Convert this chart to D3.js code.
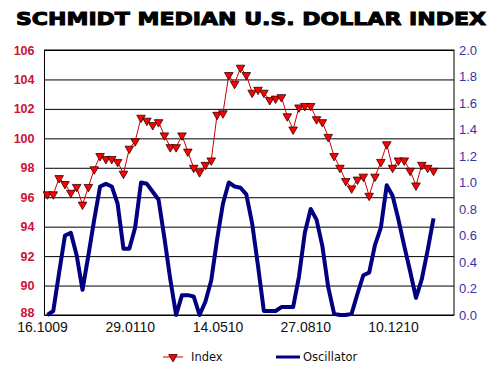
<!DOCTYPE html>
<html>
<head>
<meta charset="utf-8">
<script src="https://cdn.jsdelivr.net/npm/d3@7"></script>
<style>
  body { margin: 0; background: #fff; }
  svg { display: block; }
</style>
</head>
<body>
<div id="chart"></div>
<script>
// weekly values, first week 16.10.09
var indexValues = [96.2, 96.2, 97.3, 96.9, 96.3, 96.7, 95.5, 96.7, 97.9, 98.8,
    98.6, 98.6, 98.4, 97.6, 99.3, 99.8, 101.4, 101.2, 100.9, 101.1,
    100.2, 99.4, 99.4, 100.2, 99.1, 98.0, 97.7, 98.2, 98.5, 101.6,
    101.7, 104.3, 103.7, 104.8, 104.3, 103.1, 103.3, 103.1, 102.6, 102.7,
    102.8, 101.5, 100.6, 102.1, 102.2, 102.2, 101.3, 101.1, 100.1, 98.8,
    98.0, 97.1, 96.6, 97.2, 97.4, 96.1, 97.4, 98.4, 99.6, 98.0,
    98.5, 98.5, 97.8, 96.8, 98.2, 98.0, 97.8];

var oscValues = [0.0, 0.03, 0.32, 0.60, 0.62, 0.45, 0.19, 0.45, 0.72, 0.97,
    0.99, 0.97, 0.84, 0.50, 0.50, 0.66, 1.0, 0.99, 0.93, 0.87,
    0.58, 0.27, 0.0, 0.15, 0.15, 0.14, 0.0, 0.10, 0.26, 0.57,
    0.84, 1.0, 0.97, 0.96, 0.91, 0.69, 0.37, 0.03, 0.03, 0.03,
    0.06, 0.06, 0.06, 0.29, 0.62, 0.80, 0.72, 0.52, 0.21, 0.01,
    0.0, 0.0, 0.01, 0.16, 0.30, 0.32, 0.53, 0.66, 0.98, 0.90,
    0.72, 0.52, 0.33, 0.13, 0.27, 0.49, 0.73];

var weekCount = 70;
var dateLabels = ["16.1009", "29.0110", "14.0510", "27.0810", "10.1210"];
var dateLabelWeeks = [0, 15, 30, 45, 60];
var leftTicks = [88, 90, 92, 94, 96, 98, 100, 102, 104, 106];
var rightTicks = [0, 0.2, 0.4, 0.6, 0.8, 1.0, 1.2, 1.4, 1.6, 1.8, 2.0];

var width = 500, height = 374;
var plot = {left: 44.5, right: 454, top: 50, bottom: 315};

var svg = d3.select("#chart").append("svg")
    .attr("width", width)
    .attr("height", height);

//
// Scales
//
var x = d3.scaleLinear().domain([0, weekCount]).range([plot.left, plot.right]);
var yL = d3.scaleLinear().domain([88, 106]).range([plot.bottom, plot.top]);
var yR = d3.scaleLinear().domain([0, 2]).range([plot.bottom, plot.top]);

// title
svg.append("text")
    .attr("x", 251)
    .attr("y", 25)
    .attr("text-anchor", "middle")
    .attr("textLength", 470)
    .attr("lengthAdjust", "spacingAndGlyphs")
    .style("font-family", "'DejaVu Sans', sans-serif")
    .style("font-weight", "bold")
    .style("font-size", "18px")
    .style("stroke", "#000")
    .style("stroke-width", "1px")
    .text("SCHMIDT MEDIAN U.S. DOLLAR INDEX");

// gridlines
svg.append("g")
    .attr("class", "grid")
    .attr("transform", "translate(" + plot.left + ",0)")
    .call(d3.axisLeft(yL).tickValues(leftTicks).tickSize(-(plot.right - plot.left)).tickFormat(""))
    .call(function(g) { g.select(".domain").remove(); })
    .selectAll("line")
    .attr("stroke", "#000")
    .attr("stroke-width", 1);

// frame
svg.append("rect")
    .attr("x", plot.left)
    .attr("y", plot.top)
    .attr("width", plot.right - plot.left)
    .attr("height", plot.bottom - plot.top)
    .attr("fill", "none")
    .attr("stroke", "#000")
    .attr("stroke-width", 1);

// left axis labels
var leftAxis = svg.append("g")
    .attr("transform", "translate(" + plot.left + ",0)")
    .call(d3.axisLeft(yL).tickValues(leftTicks).tickSize(0).tickPadding(10).tickFormat(d3.format("d")));
leftAxis.select(".domain").remove();
leftAxis.selectAll("text")
    .attr("fill", "#cc1133")
    .style("font-family", "'Liberation Sans', Arial, sans-serif")
    .style("font-weight", "bold")
    .style("font-size", "12.5px");
// the bottom label sits a touch higher so it clears the first date
leftAxis.selectAll("text").filter(function(d) { return d === 88; })
    .attr("dy", "0.1em");

// right axis labels
var rightAxis = svg.append("g")
    .attr("transform", "translate(" + plot.right + ",0)")
    .call(d3.axisRight(yR).tickValues(rightTicks).tickSize(0).tickPadding(5).tickFormat(d3.format(".1f")));
rightAxis.select(".domain").remove();
rightAxis.selectAll("text")
    .attr("fill", "#3535a8")
    .style("font-family", "'Liberation Sans', Arial, sans-serif")
    .style("font-size", "13px");

// date labels
svg.append("g").selectAll("text")
    .data(dateLabels)
    .enter().append("text")
    .attr("x", function(d, i) { return x(dateLabelWeeks[i]) - 2; })
    .attr("y", 332)
    .attr("text-anchor", "middle")
    .attr("fill", "#111")
    .style("font-family", "'Liberation Sans', Arial, sans-serif")
    .style("font-size", "14px")
    .text(function(d) { return d; });

// oscillator
svg.append("path")
    .datum(oscValues)
    .attr("fill", "none")
    .attr("stroke", "#000080")
    .attr("stroke-width", 4)
    .attr("stroke-linejoin", "round")
    .attr("d", d3.line()
          .x(function(d, i) { return x(i + 0.5); })
          .y(function(d) { return yR(d); }));

// index
svg.append("path")
    .datum(indexValues)
    .attr("fill", "none")
    .attr("stroke", "#cc0000")
    .attr("stroke-width", 1)
    .attr("d", d3.line()
          .x(function(d, i) { return x(i + 0.5); })
          .y(function(d) { return yL(d); }));

var tri = d3.symbol().type(d3.symbolTriangle).size(32);

svg.append("g").selectAll("path")
    .data(indexValues)
    .enter().append("path")
    .attr("d", tri)
    .attr("transform", function(d, i) { return "translate(" + x(i + 0.5) + "," + yL(d) + ") rotate(180)"; })
    .attr("fill", "#ff0000")
    .attr("stroke", "#330000")
    .attr("stroke-width", 0.8);

// Legend
svg.append("line")
    .attr("x1", 163).attr("x2", 183)
    .attr("y1", 357).attr("y2", 357)
    .attr("stroke", "#cc0000")
    .attr("stroke-width", 1);
svg.append("path")
    .attr("d", tri)
    .attr("transform", "translate(173,357) rotate(180)")
    .attr("fill", "#ff0000")
    .attr("stroke", "#330000")
    .attr("stroke-width", 0.8);
svg.append("text")
    .attr("x", 191)
    .attr("y", 361)
    .attr("fill", "#111")
    .style("font-family", "'DejaVu Sans', sans-serif")
    .style("font-size", "11.5px")
    .text("Index");

svg.append("line")
    .attr("x1", 276).attr("x2", 300)
    .attr("y1", 357).attr("y2", 357)
    .attr("stroke", "#000080")
    .attr("stroke-width", 3);
svg.append("text")
    .attr("x", 303)
    .attr("y", 361)
    .attr("fill", "#111")
    .style("font-family", "'DejaVu Sans', sans-serif")
    .style("font-size", "11.5px")
    .text("Oscillator");
</script>
</body>
</html>
